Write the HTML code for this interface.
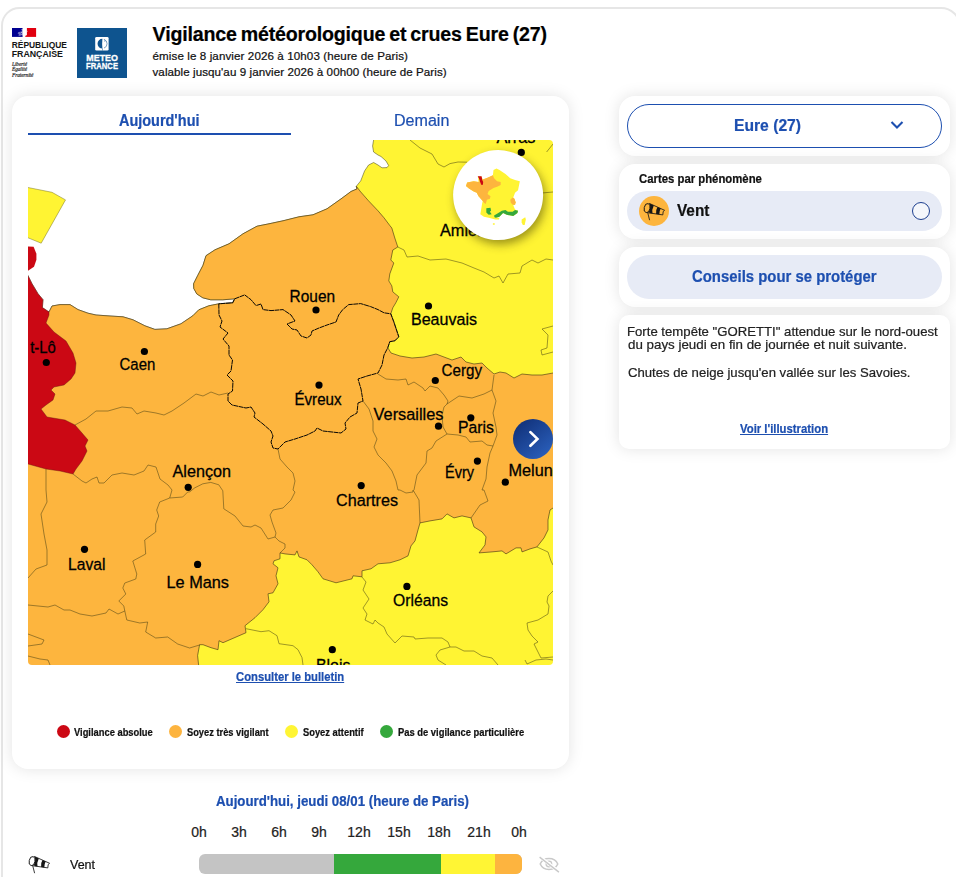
<!DOCTYPE html>
<html lang="fr">
<head>
<meta charset="utf-8">
<title>Vigilance</title>
<style>
*{box-sizing:border-box;margin:0;padding:0}
html,body{width:956px;height:877px;overflow:hidden;background:#fff}
body{font-family:"Liberation Sans",sans-serif;color:#000;position:relative}
.abs{position:absolute}
#frame{position:absolute;left:1.2px;top:7px;width:960.3px;height:900px;border:2.3px solid #e6e6e6;border-radius:18.5px 20px 0 0}
#frameR{position:absolute;left:952px;top:26px;width:3px;height:860px;background:#ececec}
.card{position:absolute;background:#fff;border-radius:16px;box-shadow:0 0 16px rgba(0,0,0,.115)}
.t{position:absolute;white-space:nowrap;line-height:1;-webkit-text-stroke:.22px currentColor}
.blue{color:#1d4fb0}
.ml{font-family:"Liberation Sans",sans-serif;font-size:16.3px;fill:#000;letter-spacing:0;stroke:#000;stroke-width:.28px}
</style>
</head>
<body>
<div id="frame"></div>

<!-- HEADER -->
<div id="hdr">
<svg class="abs" style="left:12px;top:28px" width="60" height="52" viewBox="0 0 60 52">
  <rect x="0" y="0" width="10.6" height="8.9" fill="#000091"/>
  <rect x="14.9" y="0" width="9.2" height="8.9" fill="#e1000f"/>
  <path d="M13.2 8.9 L13.7 7.5 L14.9 7 L14.9 8.9Z" fill="#e1000f"/>
  <path d="M10.6 0.4 L9.5 1.5 L10.1 3 L9.1 4.2 L9.9 5.6 L9.3 6.9 L10.6 7.5Z" fill="#fff"/>
  <path d="M6.2 4.2 L8.8 3.6 L9 7.6 L6.6 8 L6.8 6 L5.6 5.6Z" fill="#8f8fcf" opacity=".8"/>
  <path d="M15.6 2.4 L15 3.4 L15.8 4Z" fill="#f5b5b8"/>
</svg>
<svg class="abs" style="left:10px;top:38px" width="62" height="22" viewBox="10 38 62 22"><text x="11.7" y="47.6" textLength="55.3" lengthAdjust="spacingAndGlyphs" style="font-family:'Liberation Sans',sans-serif;font-weight:700;font-size:9.3px;fill:#151515">RÉPUBLIQUE</text><text x="11.7" y="57.4" textLength="51.3" lengthAdjust="spacingAndGlyphs" style="font-family:'Liberation Sans',sans-serif;font-weight:700;font-size:9.3px;fill:#151515">FRANÇAISE</text></svg>
<div class="t" style="left:12px;top:61.5px;font-family:'Liberation Serif',serif;font-style:italic;font-size:5.2px;line-height:5.9px;color:#333">Liberté<br>Égalité<br>Fraternité</div>

<div class="abs" style="left:77px;top:28px;width:50px;height:50px;background:#0e548f"></div>
<svg class="abs" style="left:77px;top:28px" width="50" height="50" viewBox="0 0 50 50">
  <rect x="18.2" y="9" width="13.4" height="13.5" rx="1.3" fill="#fff"/>
  <path d="M25.4 10.85 A4.85 4.85 0 0 0 25.4 20.55 Q24.9 15.7 25.4 10.85Z" fill="#0e548f"/>
  <path d="M27 11.3 A4.7 4.7 0 0 1 27 20.1" fill="none" stroke="#0e548f" stroke-width=".55"/>
  <path d="M27.2 11.6 q1.2 .8 .6 2.2" fill="none" stroke="#0e548f" stroke-width=".5"/>
  <rect x="25.25" y="20.4" width=".5" height="2.1" fill="#0e548f"/>
</svg>
<svg class="abs" style="left:77px;top:28px" width="50" height="50" viewBox="77 28 50 50"><text x="86.3" y="60.5" textLength="31.6" lengthAdjust="spacingAndGlyphs" style="font-family:'Liberation Sans',sans-serif;font-weight:700;font-size:8.7px;fill:#fff;stroke:#fff;stroke-width:.3">METEO</text><text x="86.1" y="68.8" textLength="31.9" lengthAdjust="spacingAndGlyphs" style="font-family:'Liberation Sans',sans-serif;font-weight:700;font-size:8.7px;fill:#fff;stroke:#fff;stroke-width:.3">FRANCE</text></svg>

<div class="t" id="title" style="left:152.6px;top:25.3px;font-size:19.6px;font-weight:700;letter-spacing:-.18px;word-spacing:-1.2px;color:#000">Vigilance météorologique et crues Eure (27)</div>
<div class="t" id="sub1" style="left:152.5px;top:50px;font-size:11.6px;letter-spacing:.1px;color:#111">émise le 8 janvier 2026 à 10h03 (heure de Paris)</div>
<div class="t" id="sub2" style="left:152.5px;top:66px;font-size:11.6px;letter-spacing:.07px;color:#111">valable jusqu'au 9 janvier 2026 à 00h00 (heure de Paris)</div>
</div>

<!-- LEFT CARD -->
<div class="card" id="leftcard" style="left:12px;top:96px;width:557px;height:673px"></div>
<div class="t blue" id="tab1" style="left:119.20px;top:111.50px;font-size:16.3px;font-weight:700;transform:scaleX(0.8873);transform-origin:0 0">Aujourd'hui</div>
<div class="abs" style="left:28px;top:133px;width:263px;height:2px;background:#1d4fb0"></div>
<div class="t blue" id="tab2" style="left:394.11px;top:111.50px;font-size:16.3px;font-weight:400;transform:scaleX(0.9862);transform-origin:0 0">Demain</div>

<!-- MAP -->
<div class="abs" id="map" style="left:28px;top:140px;width:525px;height:525px;overflow:hidden;background:#fff;border-radius:4px">
<svg id="mapsvg" width="525" height="525" viewBox="28 140 525 525" style="position:absolute;left:0;top:0">
<!--MAPSTART-->
<rect x="190" y="130" width="375" height="545" fill="#fff433"/>
<polygon points="20.0,275.7 20.0,130.0 373.6,130.0 373.6,140.0 372.6,146.0 373.6,152.0 378.0,155.0 381.0,156.5 386.0,161.0 388.6,165.5 387.0,167.6 382.0,167.8 378.0,165.0 373.6,162.5 368.6,165.0 364.6,170.9 360.7,180.9 356.3,186.3 357.0,188.9 351.0,191.5 341.0,198.9 327.0,208.8 313.0,214.8 299.0,216.8 283.0,220.8 269.0,223.8 257.0,226.2 243.0,233.8 229.0,243.8 215.0,249.8 206.0,255.7 203.0,265.3 197.6,275.7 193.6,283.7 193.8,288.5 196.8,293.9 202.8,297.8 210.8,299.8 222.8,299.8 234.7,298.8 232.7,302.8 218.8,303.8 208.8,305.8 198.8,309.8 192.8,315.8 180.9,323.8 166.9,328.8 154.9,329.4 144.9,325.8 133.0,319.8 123.0,316.8 110.0,316.0 96.0,315.0 88.0,313.2 78.0,309.6 70.0,304.6 60.0,304.6 52.0,306.0 49.0,312.0 42.4,307.6 43.0,299.7 38.0,293.7 32.0,283.7 28.0,275.7 20.0,262.0" fill="#fff" stroke="#4a4a20" stroke-width=".55"/>
<polygon points="357.0,188.9 351.0,191.5 341.0,198.9 327.0,208.8 313.0,214.8 299.0,216.8 283.0,220.8 269.0,223.8 257.0,226.2 243.0,233.8 229.0,243.8 215.0,249.8 206.0,255.7 203.0,265.3 197.6,275.7 193.6,283.7 193.8,288.5 196.8,293.9 202.8,297.8 210.8,299.8 222.8,299.8 234.7,298.8 232.7,302.8 218.8,303.8 208.8,305.8 198.8,309.8 192.8,315.8 180.9,323.8 166.9,328.8 154.9,329.4 144.9,325.8 133.0,319.8 123.0,316.8 110.0,316.0 96.0,315.0 88.0,313.2 78.0,309.6 70.0,304.6 60.0,304.6 52.0,306.0 49.0,312.0 20.0,312.0 20.0,675.0 198.6,675.0 198.6,665.0 197.6,655.6 199.6,644.7 203.0,644.7 211.0,647.7 218.0,649.7 219.0,640.7 223.0,642.7 246.0,632.7 245.0,625.7 255.0,617.7 263.0,609.7 269.0,601.8 268.0,593.8 273.0,592.8 278.0,583.8 276.0,575.8 278.0,567.8 273.0,563.8 274.0,560.8 280.0,558.8 280.0,552.9 285.0,553.9 295.0,554.9 297.0,550.9 299.0,556.9 307.0,559.8 312.0,564.8 318.0,571.8 323.0,578.8 336.0,582.8 352.0,578.8 353.0,575.8 362.0,576.8 362.0,570.8 371.0,568.8 378.0,563.8 390.0,562.8 400.0,559.8 408.0,555.9 411.0,545.9 415.0,540.9 418.0,529.9 420.0,522.9 430.0,520.9 442.0,518.9 447.0,513.9 454.0,517.9 462.0,515.9 471.0,517.9 474.0,526.9 482.0,531.9 486.0,536.9 485.0,544.9 479.0,552.9 492.0,551.9 502.0,550.9 506.0,553.9 516.0,547.9 521.0,547.9 522.0,551.9 530.0,548.9 537.0,546.9 544.0,537.9 548.0,529.9 548.0,519.9 550.0,510.0 553.0,508.0 560.0,508.0 560.0,373.0 553.0,373.0 542.0,375.0 532.0,375.0 522.0,374.0 514.0,378.0 506.0,373.0 500.0,372.0 494.0,374.0 487.0,368.0 482.0,363.0 474.0,364.0 466.0,362.0 461.0,357.0 452.0,360.0 444.0,357.0 436.0,354.0 424.0,357.0 412.0,358.0 400.0,356.0 391.0,353.0 387.8,347.7 389.8,341.7 394.8,340.8 398.8,336.8 393.8,321.8 390.8,313.8 392.8,307.8 395.8,302.8 398.8,296.8 392.8,291.9 391.8,285.9 388.8,280.9 389.8,273.9 393.8,263.0 390.8,260.0 392.8,250.0 397.8,247.0 394.8,238.0 391.8,228.0 390.0,225.8 384.0,217.8 378.0,210.8 368.6,200.9 360.7,191.9 356.3,186.3" fill="#fdb53e" stroke="#3b3010" stroke-width=".6"/>
<polygon points="20.0,262.0 28.0,275.7 32.0,283.7 38.0,293.7 43.0,299.7 42.4,307.6 49.0,312.0 49.0,315.0 46.0,323.0 54.0,332.0 66.0,341.0 73.0,353.0 76.0,363.0 75.0,373.0 71.0,379.0 64.0,385.0 54.0,387.0 51.0,390.0 55.0,394.0 53.0,400.0 46.0,405.0 41.0,409.0 47.0,417.0 65.0,420.0 75.0,425.0 82.0,433.0 88.0,440.0 85.0,446.0 87.0,451.0 82.0,461.0 76.0,469.0 73.0,474.0 60.0,471.0 46.0,469.0 28.0,464.0 20.0,463.0" fill="#cb0814" stroke="#5a1010" stroke-width=".4"/>
<polygon points="20.0,245.8 33.6,246.8 36.4,253.8 36.4,259.7 34.0,266.7 28.0,270.7 20.0,274.0" fill="#cb0814"/>
<polygon points="20.0,186.0 28.0,187.5 52.0,192.3 65.5,199.9 41.2,243.2 28.0,237.8 20.0,235.0" fill="#fff433" stroke="#77722a" stroke-width=".5"/>
<polyline points="397.8,247.0 404.0,250.0 407.0,257.0 418.0,256.0 430.0,260.0 446.0,259.0 462.0,263.0 474.0,268.0 484.0,272.0 494.0,278.0 499.0,276.0 503.0,283.0 508.0,274.0 520.0,273.0 522.0,266.0 532.0,260.0 538.0,263.0 546.0,259.0 553.0,260.0" fill="none" stroke="#3f3a12" stroke-width=".5"/>
<polyline points="410.0,140.0 420.0,148.0 432.0,154.0 438.0,164.0 444.0,167.0 450.0,163.6 458.0,162.0 467.0,162.2" fill="none" stroke="#3f3a12" stroke-width=".5"/>
<polyline points="541.6,193.0 553.0,192.0" fill="none" stroke="#3f3a12" stroke-width=".5"/>
<polyline points="546.6,152.0 553.0,144.0" fill="none" stroke="#3f3a12" stroke-width=".5"/>
<polyline points="75.0,425.0 86.0,419.0 96.0,411.0 108.0,411.0 122.0,407.0 132.0,408.0 137.0,414.0 144.0,411.0 156.0,413.0 164.0,415.0 172.0,411.0 184.0,403.0 196.0,394.0 203.0,396.0 211.0,392.0 219.0,395.0 228.0,393.0" fill="none" stroke="#3f3a12" stroke-width=".5"/>
<polyline points="73.0,474.0 82.0,481.0 86.0,483.0 92.0,479.0 97.0,477.0 99.0,483.0 104.0,483.0 112.0,475.0 122.0,473.0 134.0,475.0 144.0,471.0 148.0,465.0 156.0,467.0 160.0,479.0 168.0,485.0 172.0,490.0 169.7,498.0" fill="none" stroke="#3f3a12" stroke-width=".5"/>
<polyline points="187.7,492.0 182.7,497.0 169.7,498.0" fill="none" stroke="#3f3a12" stroke-width=".5"/>
<polyline points="46.0,469.0 46.0,490.0 47.0,502.0 41.0,514.0 44.0,534.0 47.0,550.0 47.0,565.0 36.0,569.0 28.0,578.0" fill="none" stroke="#3f3a12" stroke-width=".5"/>
<polyline points="169.7,498.0 159.7,502.0 156.7,510.0 158.7,516.0 155.7,524.0 155.7,532.0 144.7,540.0 145.7,554.0 132.8,561.0 136.8,574.0 135.8,579.0 124.8,583.0 122.8,588.0 125.8,594.0 118.8,601.0 123.8,606.0 124.8,611.0" fill="none" stroke="#3f3a12" stroke-width=".5"/>
<polyline points="28.0,605.0 48.0,607.0 55.0,605.0 64.0,610.0 70.0,610.0 80.0,614.0 92.0,616.0 106.0,613.0 109.0,609.0 118.0,614.0 124.8,611.0 126.8,620.0 139.8,623.0 147.7,622.0 145.7,632.0 155.7,638.0 167.7,637.0 177.7,644.0 189.6,648.0 199.6,645.0" fill="none" stroke="#3f3a12" stroke-width=".5"/>
<polyline points="28.0,634.0 44.0,640.0 42.0,644.0 28.0,646.0" fill="none" stroke="#3f3a12" stroke-width=".5"/>
<polyline points="28.0,656.0 40.0,659.0 48.0,660.0 50.0,665.0" fill="none" stroke="#3f3a12" stroke-width=".5"/>
<polyline points="278.0,449.0 280.0,459.0 287.0,467.0 293.0,473.0 295.0,481.0 293.0,490.0 295.0,492.0 291.0,500.0 283.0,508.0 273.0,510.0 270.0,515.0 272.0,522.0 276.0,533.0 275.0,537.0 268.0,539.0 261.0,528.0 255.0,525.0 251.0,527.0 243.0,526.0 235.0,516.0 223.8,508.8 222.8,490.8 218.8,484.8 210.8,482.4 202.8,483.8 194.8,487.8 189.8,491.8 187.7,492.0" fill="none" stroke="#3f3a12" stroke-width=".5"/>
<polyline points="275.0,537.0 279.0,541.0 285.0,544.0 285.0,548.0 280.0,553.0" fill="none" stroke="#3f3a12" stroke-width=".5"/>
<polyline points="363.0,401.0 369.0,409.0 373.0,421.0 373.0,431.0 377.0,439.0 374.0,447.0 378.0,455.0 386.0,463.0 392.0,471.0 396.0,481.0 398.0,490.0 400.0,490.0 406.0,493.0 413.0,492.0 413.0,490.0" fill="none" stroke="#3f3a12" stroke-width=".5"/>
<polyline points="413.0,490.0 419.0,500.0 420.0,523.0" fill="none" stroke="#3f3a12" stroke-width=".5"/>
<polyline points="378.0,374.0 386.0,379.0 398.0,380.0 406.0,379.0 408.0,385.0 414.0,382.0 423.0,388.0 425.0,391.0 430.0,386.0 438.0,388.0 444.0,395.0 448.0,401.0 447.0,404.0" fill="none" stroke="#3f3a12" stroke-width=".5"/>
<polyline points="447.0,404.0 459.0,396.0 472.0,398.0 484.0,394.0 492.0,390.0 494.0,375.0" fill="none" stroke="#3f3a12" stroke-width=".5"/>
<polyline points="492.0,390.0 496.0,401.0 493.0,413.0 496.0,427.0 497.0,435.0 493.0,446.0 487.0,445.0 482.0,441.0 470.0,442.0 466.0,437.0 458.0,435.0 447.0,434.0 443.0,427.0 442.0,415.0 444.0,407.0 447.0,404.0" fill="none" stroke="#3f3a12" stroke-width=".5"/>
<polyline points="447.0,434.0 436.0,441.0 432.0,448.0 427.0,451.0 426.0,463.0 417.0,475.0 414.0,490.0" fill="none" stroke="#3f3a12" stroke-width=".5"/>
<polyline points="493.0,446.0 490.0,453.0 487.0,467.0 486.0,479.0 482.0,490.0 484.0,490.0 488.0,501.0 480.0,505.0 471.0,518.0" fill="none" stroke="#3f3a12" stroke-width=".5"/>
<polyline points="542.0,329.0 553.0,326.0" fill="none" stroke="#3f3a12" stroke-width=".5"/>
<polyline points="542.0,329.0 548.0,335.0 547.0,348.0 541.0,350.0 542.0,355.0 553.0,352.0" fill="none" stroke="#3f3a12" stroke-width=".5"/>
<polyline points="246.0,628.7 261.0,631.7 269.0,630.7 277.0,635.7 279.0,643.7 293.0,645.7 298.0,649.7 302.0,657.6 303.0,665.0" fill="none" stroke="#3f3a12" stroke-width=".5"/>
<polyline points="362.0,577.0 366.0,582.0 363.0,590.0 369.0,599.0 363.0,608.0 367.0,614.0 365.0,620.0 373.0,624.0 375.0,620.0 378.0,623.0 384.0,627.0 387.0,634.0 395.0,643.0 402.0,636.0 414.0,637.0 415.0,639.0 428.0,638.0 442.0,638.0 448.0,642.0 450.0,647.0 440.0,650.0 436.0,655.0 438.0,660.0 446.0,665.0" fill="none" stroke="#3f3a12" stroke-width=".5"/>
<polyline points="450.0,647.0 456.0,647.0 464.0,651.0 474.0,651.0 482.0,656.0 492.0,658.0 498.0,665.0" fill="none" stroke="#3f3a12" stroke-width=".5"/>
<polyline points="537.0,547.0 548.0,552.0 551.0,561.0 553.0,565.0" fill="none" stroke="#3f3a12" stroke-width=".5"/>
<polyline points="553.0,591.0 548.0,596.0 547.0,602.0 549.0,606.0 548.0,614.0 538.0,620.0 527.0,623.0 528.0,630.0 532.0,636.0 538.0,642.0 534.0,644.0 538.0,652.0 541.0,658.0 553.0,657.0" fill="none" stroke="#3f3a12" stroke-width=".5"/>
<polyline points="525.0,660.0 527.0,664.0 536.0,660.0 546.0,659.0 553.0,660.0" fill="none" stroke="#3f3a12" stroke-width=".5"/>
<polyline points="218.8,303.8 219.0,315.0 222.0,321.0 220.0,327.0 228.0,333.0 223.0,339.0 229.0,346.0 229.0,355.0 232.5,360.0 231.0,371.0 227.0,375.0 233.0,381.0 232.5,391.0 228.0,394.0 228.0,401.0 232.0,405.0 246.0,408.0 251.0,407.0 255.0,413.0 254.0,417.0 263.0,424.0 271.0,431.0 273.0,436.0 271.0,442.0 273.0,448.0 278.0,449.0 285.0,442.0 295.0,439.0 307.0,435.0 315.0,431.0 317.0,428.0 323.0,431.0 341.0,433.0 346.0,429.0 345.0,423.0 350.0,417.0 357.0,413.0 358.0,403.0 363.0,401.0 361.0,389.0 358.0,379.0 367.0,376.0 378.0,373.0 382.0,365.0 384.0,355.0 387.8,347.7 389.8,341.7 394.8,340.8 398.8,336.8 393.8,321.8 390.8,313.8 384.0,312.8 378.0,309.6 370.6,306.6 360.7,303.6 348.7,304.6 342.7,309.6 338.7,315.0 336.0,322.0 327.0,325.0 319.0,328.0 312.0,331.0 311.0,335.0 307.0,338.0 301.0,336.0 297.0,330.0 292.0,329.0 287.0,324.0 295.0,321.0 291.0,315.0 289.0,313.6 283.0,309.6 271.0,310.6 263.0,309.6 261.0,304.0 256.0,305.6 251.0,299.7 244.7,294.9 234.7,298.8 232.7,302.8 218.8,303.8" fill="none" stroke="#0a0804" stroke-width="1" stroke-dasharray="5 .5"/>
<circle cx="521.3" cy="152.4" r="3.6" fill="#000"/>
<circle cx="316" cy="310" r="3.6" fill="#000"/>
<circle cx="428.5" cy="306.0" r="3.6" fill="#000"/>
<circle cx="46.3" cy="362.5" r="3.6" fill="#000"/>
<circle cx="144.4" cy="351.5" r="3.6" fill="#000"/>
<circle cx="319" cy="385.1" r="3.6" fill="#000"/>
<circle cx="435.3" cy="380.5" r="3.6" fill="#000"/>
<circle cx="438.5" cy="426.2" r="3.6" fill="#000"/>
<circle cx="470.8" cy="417.8" r="3.6" fill="#000"/>
<circle cx="477.4" cy="461.1" r="3.6" fill="#000"/>
<circle cx="505.3" cy="482.2" r="3.6" fill="#000"/>
<circle cx="188.2" cy="487.3" r="3.6" fill="#000"/>
<circle cx="361.2" cy="485.6" r="3.6" fill="#000"/>
<circle cx="84.5" cy="549.3" r="3.6" fill="#000"/>
<circle cx="197.6" cy="564.4" r="3.6" fill="#000"/>
<circle cx="406.9" cy="586.4" r="3.6" fill="#000"/>
<circle cx="332.3" cy="649.7" r="3.6" fill="#000"/>
<text x="496.5" y="143.4" class="ml">Arras</text>
<text x="440" y="235.6" class="ml">Amiens</text>
<text x="289.6" y="301.8" class="ml" textLength="45.5" lengthAdjust="spacingAndGlyphs">Rouen</text>
<text x="411" y="325.4" class="ml" textLength="66" lengthAdjust="spacingAndGlyphs">Beauvais</text>
<text x="30.2" y="353.4" class="ml" textLength="25.6" lengthAdjust="spacingAndGlyphs">t-Lô</text>
<text x="119.5" y="369.5" class="ml" textLength="35.8" lengthAdjust="spacingAndGlyphs">Caen</text>
<text x="294.5" y="404.7" class="ml" textLength="47" lengthAdjust="spacingAndGlyphs">Évreux</text>
<text x="441.5" y="376.4" class="ml" textLength="40.5" lengthAdjust="spacingAndGlyphs">Cergy</text>
<text x="373.6" y="419.9" class="ml" textLength="69.8" lengthAdjust="spacingAndGlyphs">Versailles</text>
<text x="458" y="433.4" class="ml" textLength="36" lengthAdjust="spacingAndGlyphs">Paris</text>
<text x="445" y="477.8" class="ml" textLength="29" lengthAdjust="spacingAndGlyphs">Évry</text>
<text x="508.5" y="476.4" class="ml">Melun</text>
<text x="172.5" y="477" class="ml" textLength="58.5" lengthAdjust="spacingAndGlyphs">Alençon</text>
<text x="336" y="505.8" class="ml" textLength="62" lengthAdjust="spacingAndGlyphs">Chartres</text>
<text x="68" y="570.3" class="ml" textLength="37.4" lengthAdjust="spacingAndGlyphs">Laval</text>
<text x="166.5" y="587.7" class="ml" textLength="62.5" lengthAdjust="spacingAndGlyphs">Le Mans</text>
<text x="393" y="606.3" class="ml" textLength="55" lengthAdjust="spacingAndGlyphs">Orléans</text>
<text x="315.9" y="670.8" class="ml" textLength="34.6" lengthAdjust="spacingAndGlyphs">Blois</text>
<defs><filter id="sh" x="-30%" y="-30%" width="170%" height="170%"><feGaussianBlur stdDeviation="5"/></filter><linearGradient id="bg" x1="0.15" y1="0.1" x2="0.85" y2="0.95"><stop offset="0" stop-color="#12337c"/><stop offset="1" stop-color="#2a5fbb"/></linearGradient></defs>
<circle cx="500.5" cy="199.5" r="45" fill="#3a3600" opacity=".5" filter="url(#sh)"/>
<circle cx="498.1" cy="195.1" r="45" fill="#fff"/>
<polygon points="496.49,168.50 499.48,169.93 505.47,174.12 510.26,178.31 515.05,180.11 519.84,181.31 518.04,190.29 515.05,192.68 513.25,197.47 514.45,198.67 515.65,202.26 515.05,204.66 513.25,205.25 515.05,209.44 518.04,210.64 517.44,213.04 513.25,216.03 506.67,214.83 503.08,213.04 499.48,216.63 495.89,217.83 499.48,217.83 498.89,219.62 495.29,219.62 488.71,217.83 483.92,216.63 480.33,214.23 482.12,203.46 482.72,201.06 478.53,196.27 476.74,192.68 473.74,191.48 468.95,188.49 465.96,186.10 467.16,182.50 473.74,181.31 478.53,181.91 477.93,176.52 481.52,176.52 482.72,179.51 487.51,177.72 492.90,175.32 493.50,169.93" fill="#fff433"/>
<polygon points="465.96,186.10 467.16,182.50 473.74,181.31 478.53,181.91 479.73,180.71 480.33,184.30 483.32,183.70 482.72,179.51 487.51,177.72 492.90,175.32 494.10,178.31 497.09,181.31 500.68,181.91 500.68,184.90 497.09,186.70 493.50,187.89 488.71,190.89 487.51,193.88 490.50,196.27 489.91,198.67 486.91,199.87 485.72,204.06 483.92,202.86 482.72,201.06 478.53,196.27 476.74,192.68 473.74,191.48 468.95,188.49" fill="#fdb53e"/>
<polygon points="477.69,176.16 481.52,176.16 482.36,180.11 483.20,181.91 482.96,184.66 481.05,184.66 479.85,181.31 478.89,178.31" fill="#cb0814"/>
<polygon points="510.26,199.87 512.66,197.47 514.45,198.67 515.65,202.26 515.05,204.66 512.66,204.66 510.86,202.86" fill="#fdb53e"/>
<polygon points="486.31,208.25 490.50,207.65 491.10,210.64 489.91,211.84 491.70,214.23 488.71,214.83 486.31,212.44" fill="#35a83c"/>
<polygon points="494.10,215.43 498.29,213.04 501.88,210.64 505.47,210.04 507.87,211.84 512.66,211.84 515.05,210.04 518.04,210.64 517.44,213.04 513.25,216.03 506.67,214.83 503.08,213.04 499.48,216.63 495.89,217.83 494.46,217.23" fill="#35a83c"/>
<polygon points="521.64,219.62 525.23,217.23 525.83,219.62 524.63,225.01 522.83,225.01 521.64,222.61" fill="#fff433"/>
<polygon points="492.90,223.21 494.70,223.21 494.70,224.77 492.90,224.77" fill="#fff433"/>
<circle cx="533" cy="438.9" r="20" fill="url(#bg)"/>
<path d="M530.4 432.1 L537.4 438.9 L530.4 445.7" fill="none" stroke="#fff" stroke-width="2.7" stroke-linecap="round" stroke-linejoin="miter"/>
<!--MAPEND-->
</svg>
</div>

<div class="t blue" id="bulletin" style="left:236.30px;top:671.29px;font-size:12.3px;font-weight:700;text-decoration:underline;transform:scaleX(0.9152);transform-origin:0 0">Consulter le bulletin</div>

<!-- LEGEND -->
<div id="legend">
<div class="abs" style="left:57px;top:725px;width:13px;height:13px;border-radius:50%;background:#cc0814"></div>
<div class="t" id="leg1" style="left:73.90px;top:728.08px;font-size:10.3px;font-weight:700;transform:scaleX(0.9073);transform-origin:0 0;color:#111">Vigilance absolue</div>
<div class="abs" style="left:169px;top:725px;width:13px;height:13px;border-radius:50%;background:#fdb43f"></div>
<div class="t" id="leg2" style="left:186.80px;top:728.08px;font-size:10.3px;font-weight:700;transform:scaleX(0.9023);transform-origin:0 0;color:#111">Soyez très vigilant</div>
<div class="abs" style="left:285px;top:725px;width:13px;height:13px;border-radius:50%;background:#fff534"></div>
<div class="t" id="leg3" style="left:302.60px;top:728.08px;font-size:10.3px;font-weight:700;transform:scaleX(0.9065);transform-origin:0 0;color:#111">Soyez attentif</div>
<div class="abs" style="left:380px;top:725px;width:13px;height:13px;border-radius:50%;background:#35a83c"></div>
<div class="t" id="leg4" style="left:397.50px;top:728.08px;font-size:10.3px;font-weight:700;transform:scaleX(0.9108);transform-origin:0 0;color:#111">Pas de vigilance particulière</div>
</div>

<!-- TIMELINE -->
<div id="timeline">
<div class="t blue" id="tltitle" style="left:215.60px;top:793.90px;font-size:14.3px;font-weight:700;transform:scaleX(0.9276);transform-origin:0 0">Aujourd'hui, jeudi 08/01 (heure de Paris)</div>
<div class="t hh" style="left:179px;top:825px;width:40px;text-align:center;font-size:14px;color:#222">0h</div>
<div class="t hh" style="left:219px;top:825px;width:40px;text-align:center;font-size:14px;color:#222">3h</div>
<div class="t hh" style="left:259px;top:825px;width:40px;text-align:center;font-size:14px;color:#222">6h</div>
<div class="t hh" style="left:299px;top:825px;width:40px;text-align:center;font-size:14px;color:#222">9h</div>
<div class="t hh" style="left:339px;top:825px;width:40px;text-align:center;font-size:14px;color:#222">12h</div>
<div class="t hh" style="left:379px;top:825px;width:40px;text-align:center;font-size:14px;color:#222">15h</div>
<div class="t hh" style="left:419px;top:825px;width:40px;text-align:center;font-size:14px;color:#222">18h</div>
<div class="t hh" style="left:459px;top:825px;width:40px;text-align:center;font-size:14px;color:#222">21h</div>
<div class="t hh" style="left:499px;top:825px;width:40px;text-align:center;font-size:14px;color:#222">0h</div>
<svg class="abs" style="left:14.8px;top:838.7px" width="40" height="40" viewBox="0 0 40 40">
<g>
<path d="M19.3 17.4 L34.6 24.3 L33.2 25.5 L32.8 28.9 L17.5 26.7 Z" fill="#fff" stroke="#161616" stroke-width=".85" stroke-linejoin="round"/>
<path d="M20.1 17.8 L23.8 19.45 Q21.7 23.5 22.5 27.4 L19.5 27.0 Q17.9 22.5 20.1 17.8Z" fill="#161616"/>
<path d="M27.5 21.1 L30.7 22.55 Q29.1 25.5 29.3 28.4 L26.1 27.94 Q25.4 24.5 27.5 21.1Z" fill="#161616"/>
<ellipse cx="17.1" cy="22.1" rx="2.9" ry="4.6" transform="rotate(12 17.1 22.1)" fill="#fff" stroke="#161616" stroke-width=".9"/>
<path d="M17.7 26.6 L19.5 33.8" stroke="#161616" stroke-width=".85" stroke-linecap="round" fill="none"/>
</g></svg>
<svg class="abs" style="left:536px;top:852px" width="26" height="24" viewBox="536 852 26 24">
<path d="M540.2 864 C543.5 856.8 554.5 856.8 557.8 864 C554.5 871.2 543.5 871.2 540.2 864Z" fill="none" stroke="#c9c9c9" stroke-width="1.5"/>
<circle cx="548.9" cy="864" r="2.8" fill="none" stroke="#c9c9c9" stroke-width="1.3"/>
<path d="M539.4 856.5 L558.7 871.5" stroke="#fff" stroke-width="3.4"/>
<path d="M539.4 856.5 L558.7 871.5" stroke="#c9c9c9" stroke-width="1.4" transform="translate(.2,.6)"/>
</svg>
<div class="t" id="vent2" style="left:69.90px;top:858.66px;font-size:12.8px;font-weight:400;transform:scaleX(0.9784);transform-origin:0 0;color:#111">Vent</div>
<div class="abs" style="left:199px;top:854px;width:323px;height:20px;border-radius:6px;overflow:hidden;background:#c4c4c4">
  <div class="abs" style="left:135px;top:0;width:107px;height:20px;background:#35a83c"></div>
  <div class="abs" style="left:242px;top:0;width:54px;height:20px;background:#fff534"></div>
  <div class="abs" style="left:296px;top:0;width:27px;height:20px;background:#fdb43f"></div>
</div>
</div>

<!-- RIGHT PANEL -->
<div class="card" id="rc1" style="left:619px;top:96px;width:331px;height:60px"></div>
<div class="abs" style="left:627px;top:104px;width:315px;height:44px;border:1.1px solid #1d4fb0;border-radius:22px;background:#fff"></div>
<div class="t blue" id="sel" style="left:733.65px;top:117.43px;font-size:16.5px;font-weight:700;transform:scaleX(0.9492);transform-origin:0 0">Eure (27)</div>
<svg class="abs" style="left:890px;top:119.4px" width="14" height="12" viewBox="0 0 14 12"><path d="M1.5 2.9 L7 8.4 L12.5 2.9" stroke="#1d4fb0" stroke-width="2.1" fill="none"/></svg>

<div class="card" id="rc2" style="left:619px;top:164px;width:331px;height:75px"></div>
<div class="t" id="cpp" style="left:639.20px;top:173.37px;font-size:12.2px;font-weight:700;transform:scaleX(0.9305);transform-origin:0 0;color:#111">Cartes par phénomène</div>
<div class="abs" style="left:627px;top:191px;width:315px;height:40px;border-radius:20px;background:#e7ebf6"></div>
<div class="abs" style="left:638.9px;top:195.9px;width:30.2px;height:30.2px;border-radius:50%;background:#fdb53e"></div>
<svg class="abs" style="left:630px;top:186px" width="40" height="40" viewBox="0 0 40 40">
<g>
<path d="M19.3 17.4 L34.6 24.3 L33.2 25.5 L32.8 28.9 L17.5 26.7 Z" fill="#fdb53e" stroke="#161616" stroke-width=".85" stroke-linejoin="round"/>
<path d="M20.1 17.8 L23.8 19.45 Q21.7 23.5 22.5 27.4 L19.5 27.0 Q17.9 22.5 20.1 17.8Z" fill="#161616"/>
<path d="M27.5 21.1 L30.7 22.55 Q29.1 25.5 29.3 28.4 L26.1 27.94 Q25.4 24.5 27.5 21.1Z" fill="#161616"/>
<ellipse cx="17.1" cy="22.1" rx="2.9" ry="4.6" transform="rotate(12 17.1 22.1)" fill="#fdb53e" stroke="#161616" stroke-width=".9"/>
<path d="M17.7 26.6 L19.5 33.8" stroke="#161616" stroke-width=".85" stroke-linecap="round" fill="none"/>
</g></svg>
<div class="t" id="vent1" style="left:677.00px;top:203.16px;font-size:16.0px;font-weight:700;transform:scaleX(0.9576);transform-origin:0 0;color:#111">Vent</div>
<div class="abs" style="left:912px;top:202px;width:18px;height:18px;border-radius:50%;border:1.3px solid #1d3f8f;background:#f4f6fb"></div>

<div class="card" id="rc3" style="left:619px;top:247px;width:331px;height:60px"></div>
<div class="abs" style="left:627px;top:255px;width:315px;height:44px;border-radius:22px;background:#e7ebf6"></div>
<div class="t blue" id="conseils" style="left:691.80px;top:267.83px;font-size:16.5px;font-weight:700;transform:scaleX(0.9027);transform-origin:0 0">Conseils pour se protéger</div>

<div class="card" id="rc4" style="left:619px;top:315px;width:331px;height:134px;border-radius:10px"></div>
<div class="t" id="p1a" style="left:626.62px;top:325.06px;font-size:13.4px;font-weight:400;transform:scaleX(0.9828);transform-origin:0 0;color:#222">Forte tempête "GORETTI" attendue sur le nord-ouest</div>
<div class="t" id="p1b" style="left:627.60px;top:338.46px;font-size:13.4px;font-weight:400;transform:scaleX(0.9965);transform-origin:0 0;color:#222">du pays jeudi en fin de journée et nuit suivante.</div>
<div class="t" id="p2" style="left:627.60px;top:365.76px;font-size:13.4px;font-weight:400;transform:scaleX(0.9818);transform-origin:0 0;color:#222">Chutes de neige jusqu'en vallée sur les Savoies.</div>
<div class="t blue" id="voir" style="left:740.30px;top:423.29px;font-size:12.3px;font-weight:700;text-decoration:underline;transform:scaleX(0.9211);transform-origin:0 0">Voir l'illustration</div>

</body>
</html>
